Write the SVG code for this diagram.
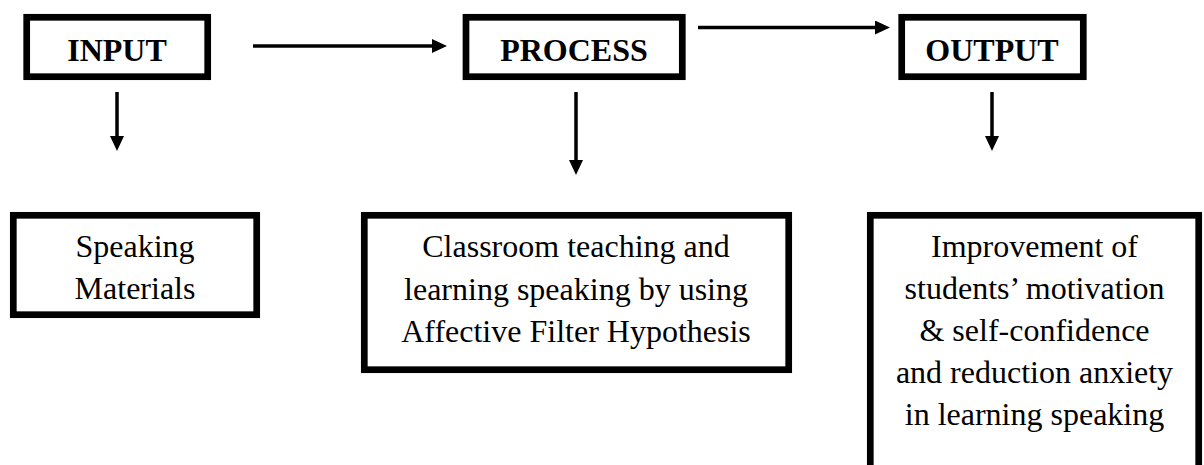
<svg xmlns="http://www.w3.org/2000/svg" width="1204" height="465" viewBox="0 0 1204 465">
<style>
  .box { fill: #ffffff; stroke: #000000; stroke-width: 6.7; }
  .head { font-family: "Liberation Serif", "Times New Roman", serif; font-weight: bold; font-size: 32px; fill: #000000; text-anchor: middle; }
  .body { font-family: "Liberation Serif", "Times New Roman", serif; font-size: 32px; fill: #000000; text-anchor: middle; }
  .conn { stroke: #000000; stroke-width: 3.5; fill: none; }
</style>
<defs>
  <marker id="arrow" viewBox="0 0 15 14" refX="0" refY="7" markerWidth="15" markerHeight="14" markerUnits="userSpaceOnUse" orient="auto">
    <path d="M0,0 L15,7 L0,14 Z" fill="#000000"/>
  </marker>
</defs>
<rect width="1204" height="465" fill="#ffffff"/>

<g id="input">
  <rect class="box" x="26.7" y="17.3" width="181" height="59.4"/>
  <text class="head" x="117" y="61">INPUT</text>
</g>
<g id="process">
  <rect class="box" x="466" y="17.3" width="216.3" height="59.4"/>
  <text class="head" x="574" y="61">PROCESS</text>
</g>
<g id="output">
  <rect class="box" x="901.7" y="17.3" width="181.6" height="59.4"/>
  <text class="head" x="992" y="61">OUTPUT</text>
</g>

<g id="speaking-materials">
  <rect class="box" x="13.3" y="215.3" width="243.4" height="99.4"/>
  <text class="body" x="135" y="257">Speaking</text>
  <text class="body" x="135" y="299">Materials</text>
</g>
<g id="classroom">
  <rect class="box" x="364.3" y="215.3" width="424.4" height="154.4"/>
  <text class="body" x="576" y="257">Classroom teaching and</text>
  <text class="body" x="576" y="299.5">learning speaking by using</text>
  <text class="body" x="576" y="342">Affective Filter Hypothesis</text>
</g>
<g id="improvement">
  <rect class="box" x="870.3" y="215.3" width="328.4" height="270"/>
  <text class="body" x="1034.5" y="257">Improvement of</text>
  <text class="body" x="1034.5" y="299">students’ motivation</text>
  <text class="body" x="1034.5" y="341">&amp; self-confidence</text>
  <text class="body" x="1034.5" y="383">and reduction anxiety</text>
  <text class="body" x="1034.5" y="425">in learning speaking</text>
</g>

<g id="connectors">
  <line class="conn" x1="253" y1="46" x2="432" y2="46" marker-end="url(#arrow)"/>
  <line class="conn" x1="698" y1="27.5" x2="875" y2="27.5" marker-end="url(#arrow)"/>
  <line class="conn" x1="117" y1="92" x2="117" y2="136" marker-end="url(#arrow)"/>
  <line class="conn" x1="576" y1="92" x2="576" y2="160" marker-end="url(#arrow)"/>
  <line class="conn" x1="992" y1="92" x2="992" y2="136" marker-end="url(#arrow)"/>
</g>
</svg>
